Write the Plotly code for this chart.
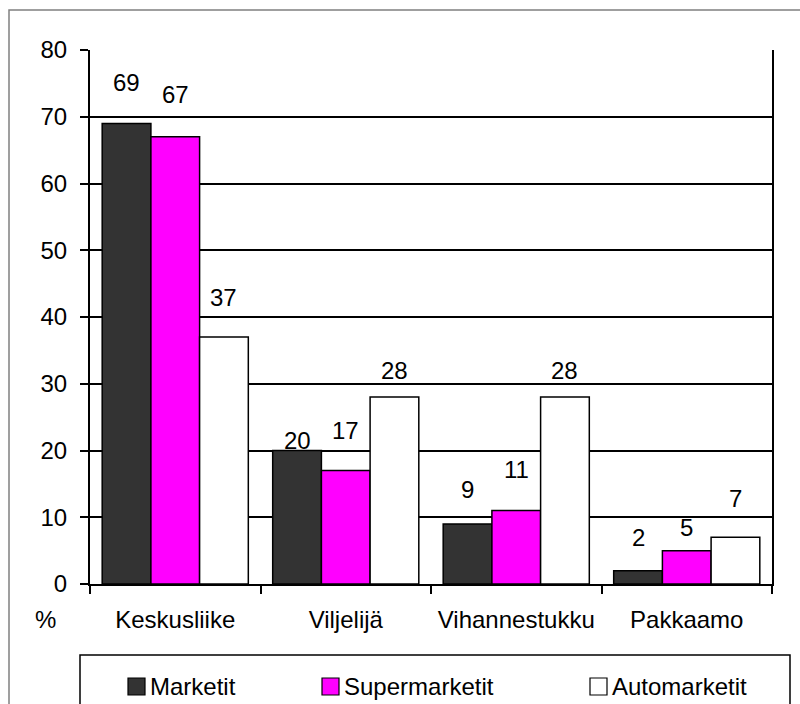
import plotly.graph_objects as go

# Share of responses (%) by supply channel and store type
categories = ["Keskusliike", "Viljelijä", "Vihannestukku", "Pakkaamo"]
series_names = ["Marketit", "Supermarketit", "Automarketit"]
marketit = [69, 20, 9, 2]
supermarketit = [67, 17, 11, 5]
automarketit = [37, 28, 28, 7]
y_ticks = [0, 10, 20, 30, 40, 50, 60, 70, 80]
y_unit = "%"

series_values = [marketit, supermarketit, automarketit]
fills = ["#333333", "#FF00FF", "#FFFFFF"]
# vertical lift (px) of each value label above its bar
label_lift = [
    [41, 10, 34, 33],
    [42, 40, 41, 23],
    [40, 27, 27, 39],
]

FONT = "Liberation Sans, Arial, sans-serif"
FS = 24
W, H = 800, 704
L, R, T, B = 90, 28, 50, 120
BARGAP = 0.143

fig = go.Figure()
for name, vals, col in zip(series_names, series_values, fills):
    fig.add_trace(go.Bar(
        x=categories, y=vals, name=name,
        marker=dict(color=col, line=dict(color="black", width=1.5)),
        showlegend=False,
    ))

# value labels above bars
bw = (1 - BARGAP) / len(series_names)
ann = []
for j, vals in enumerate(series_values):
    for i, v in enumerate(vals):
        ann.append(dict(
            x=i + (j - 1) * bw, y=v, xref="x", yref="y",
            text=str(v), showarrow=False, yanchor="middle",
            yshift=label_lift[j][i],
            font=dict(family=FONT, size=FS, color="black"),
        ))

pw = W - L - R
ph = H - T - B


def px_x(p):
    return (p - L) / pw


def px_y(p):
    return (H - B - p) / ph


ann.append(dict(x=px_x(45), y=px_y(619), xref="paper", yref="paper",
                text=y_unit, showarrow=False, xanchor="center", yanchor="middle",
                font=dict(family=FONT, size=FS, color="black")))

shapes = [
    # outer chart frame
    dict(type="rect", xref="paper", yref="paper",
         x0=px_x(9), x1=px_x(812), y0=px_y(716), y1=px_y(10),
         line=dict(color="#808080", width=1.5), fillcolor="rgba(0,0,0,0)", layer="below"),
    # legend frame
    dict(type="rect", xref="paper", yref="paper",
         x0=px_x(80), x1=px_x(790), y0=px_y(716), y1=px_y(655),
         line=dict(color="black", width=1.5), fillcolor="white"),
]

# legend entries
legend_left = [128, 322, 590]
for name, col, lx in zip(series_names, fills, legend_left):
    shapes.append(dict(type="rect", xref="paper", yref="paper",
                       x0=px_x(lx), x1=px_x(lx + 17), y0=px_y(695), y1=px_y(678),
                       line=dict(color="black", width=1.2), fillcolor=col))
    ann.append(dict(x=px_x(lx + 20), y=px_y(686), xref="paper", yref="paper",
                    text=name, showarrow=False, xanchor="left", yanchor="middle",
                    font=dict(family=FONT, size=FS, color="black")))

fig.update_layout(
    width=W, height=H,
    margin=dict(l=L, r=R, t=T, b=B),
    paper_bgcolor="white", plot_bgcolor="white",
    barmode="group", bargap=BARGAP, bargroupgap=0,
    font=dict(family=FONT, size=FS, color="black"),
    annotations=ann, shapes=shapes,
    xaxis=dict(
        type="category", categoryorder="array", categoryarray=categories,
        range=[-0.5, len(categories) - 0.5], tickson="boundaries",
        showline=True, linecolor="black", linewidth=2,
        ticks="outside", ticklen=8, tickwidth=1.5, tickcolor="black",
        showgrid=False, zeroline=False,
        tickfont=dict(family=FONT, size=FS, color="black"),
        ticklabelstandoff=13,
    ),
    yaxis=dict(
        range=[0, 80], tickvals=y_ticks,
        showline=True, linecolor="black", linewidth=2, mirror=True,
        ticks="outside", ticklen=8, tickwidth=1.5, tickcolor="black",
        showgrid=True, gridcolor="black", gridwidth=1.5, zeroline=False,
        tickfont=dict(family=FONT, size=FS, color="black"),
        ticklabelstandoff=8,
    ),
)

fig.write_html("out.html")
